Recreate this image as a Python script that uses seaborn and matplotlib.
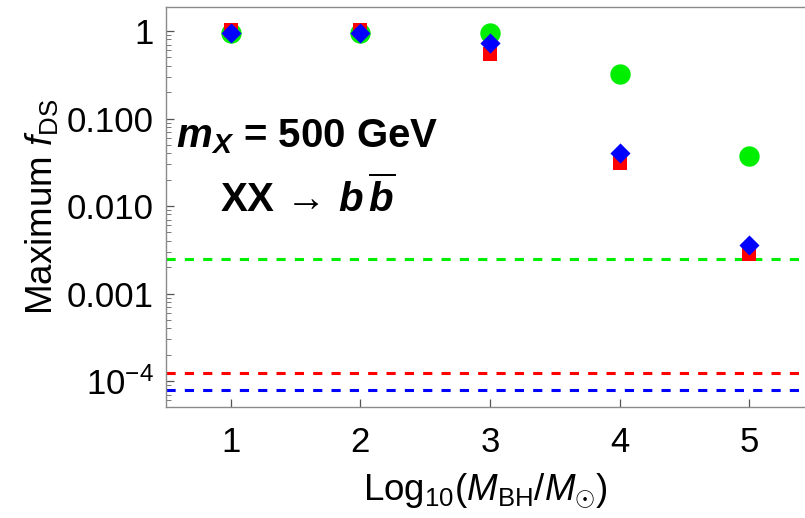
import numpy as np
import pandas as pd
import matplotlib
matplotlib.use("Agg")
import matplotlib.pyplot as plt
import matplotlib.ticker as mticker
import seaborn as sns

# ---- data ----
log_mbh = [1, 2, 3, 4, 5]
f_green = [0.96, 0.96, 0.95, 0.32, 0.037]
f_red = [1.02, 1.02, 0.54, 0.031, 0.00285]
f_blue = [0.96, 0.96, 0.73, 0.040, 0.0036]
limit_green = 0.00246
limit_red = 1.24e-4
limit_blue = 8.0e-5
y_ticks = [1e-4, 1e-3, 1e-2, 1e-1, 1]
y_ticklabels = [r"$10^{-4}$", "0.001", "0.010", "0.100", "1"]
x_ticks = [1, 2, 3, 4, 5]

sns.set_theme(style="white")
plt.rcParams["font.family"] = ["Liberation Sans", "DejaVu Sans"]
plt.rcParams["mathtext.fontset"] = "custom"
plt.rcParams["mathtext.rm"] = "Liberation Sans"
plt.rcParams["mathtext.it"] = "Liberation Sans:italic"
plt.rcParams["mathtext.bf"] = "Liberation Sans:bold"
plt.rcParams["mathtext.bfit"] = "Liberation Sans:bold:italic"
for k in ["text.color", "axes.labelcolor", "xtick.color", "ytick.color"]:
    plt.rcParams[k] = "black"

fig = plt.figure(figsize=(8.05, 5.18), dpi=100)
ax = fig.add_axes([166/805, 111/518, 1 - 166/805, (407-7)/518])

GREEN = "#00ee00"
RED = "#ff0000"
BLUE = "#0000ff"

df = pd.DataFrame({"x": log_mbh, "g": f_green, "r": f_red, "b": f_blue})

# dashed limits
for val, col in [(limit_green, GREEN), (limit_red, RED), (limit_blue, BLUE)]:
    ax.axhline(val, color=col, lw=2.2, dashes=(3.0, 3.0), zorder=1)

sns.scatterplot(data=df, x="x", y="g", ax=ax, color=GREEN, marker="o", s=215,
                linewidth=0, zorder=3)
sns.scatterplot(data=df, x="x", y="r", ax=ax, color=RED, marker="s", s=100,
                linewidth=0, zorder=4)
sns.scatterplot(data=df, x="x", y="b", ax=ax, color=BLUE, marker="D", s=105,
                linewidth=0, zorder=5)

ax.set_yscale("log")
ax.set_ylim(5.05e-5, 1.88)
ax.set_xlim(0.5, 5.43)
ax.yaxis.set_major_locator(mticker.FixedLocator(y_ticks))
ax.yaxis.set_major_formatter(mticker.FixedFormatter(y_ticklabels))
ax.yaxis.set_minor_locator(mticker.LogLocator(base=10, subs=np.arange(2, 10)))
ax.yaxis.set_minor_formatter(mticker.NullFormatter())
ax.set_xticks(x_ticks)
ax.set_xticklabels([str(v) for v in x_ticks])

spine_col = "#8a8a8a"
for side in ["left", "bottom", "top"]:
    ax.spines[side].set_color(spine_col)
    ax.spines[side].set_linewidth(1.0)
ax.spines["right"].set_visible(False)

ax.tick_params(axis="both", which="major", direction="in", length=6, width=0.9,
               color="#555555", labelsize=25, left=True, bottom=True)
ax.tick_params(axis="y", which="major", pad=9)
ax.tick_params(axis="x", which="major", pad=14)
ax.tick_params(axis="y", which="minor", direction="in", length=3.5, width=0.7,
               color="#777777", left=True)
ax.tick_params(axis="x", which="minor", bottom=False)

ax.set_xlabel(r"Log$_{10}$($M_{\mathrm{BH}}$/$M_{\odot}$)", fontsize=26.5, labelpad=9)
ax.set_ylabel(r"Maximum $f_{\mathrm{DS}}$", fontsize=26.5, labelpad=5)

ax.text(0.221, 0.65, r"$\mathbfit{m}_{\mathbfit{X}}$ = 500 GeV", transform=ax.transAxes,
        fontsize=29, fontweight="bold", ha="center", va="baseline")
ax.text(0.222, 0.4875, r"XX$\,\mathbf{\rightarrow}\,\mathbfit{b}\,\overline{\mathbfit{b}}$",
        transform=ax.transAxes, fontsize=29, fontweight="bold",
        ha="center", va="baseline")

ax.grid(False)
fig.savefig("out.png", dpi=100)
